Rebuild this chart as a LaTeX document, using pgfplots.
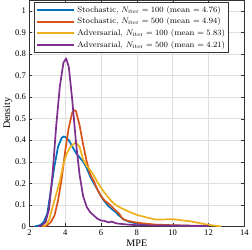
\documentclass[border=0pt]{standalone}
\usepackage{pgfplots}
\pgfplotsset{compat=1.18}
\usepackage{fontspec}
\newfontfamily\tms{Liberation Serif}
\definecolor{mblue}{rgb}{0,0.447,0.741}
\definecolor{morange}{rgb}{0.85,0.325,0.098}
\definecolor{myellow}{rgb}{0.929,0.694,0.125}
\definecolor{mpurple}{rgb}{0.494,0.184,0.556}
\begin{document}
\begin{tikzpicture}
\begin{axis}[
  scale only axis, width=213pt, height=224pt,
  xmin=2, xmax=14, ymin=0, ymax=1.05,
  xtick={2,4,...,14}, ytick={0,0.1,...,1},
  yticklabels={0,0.1,0.2,0.3,0.4,0.5,0.6,0.7,0.8,0.9,1},
  tick align=inside, major tick length=3pt,
  grid=major, grid style={gray!25, line width=0.4pt},
  axis line style={black!80, line width=0.5pt},
  tick style={black!80},
  ticklabel style={font=\tms\fontsize{8.5}{9}\selectfont},
  /pgf/number format/assume math mode=true,
  xlabel={\tms\fontsize{10}{11}\selectfont MPE},
  ylabel={\tms\fontsize{10}{11}\selectfont Density},
  xlabel style={yshift=3pt}, ylabel style={yshift=-4pt},
  legend style={at={(0.023,0.991)}, anchor=north west, draw=black!80, line width=0.5pt,
    font=\fontsize{8.1}{9}\selectfont, inner sep=1.5pt, row sep=0pt, cells={anchor=west}},
  legend image code/.code={\draw[#1, line width=2pt] (0pt,0pt) -- (37pt,0pt);},
  every axis plot/.append style={line width=1.7pt, line join=round},
]
\addplot[mblue] coordinates {
(2.3,0) (2.6,0.005) (2.8,0.02) (3.0,0.06) (3.2,0.17) (3.4,0.28) (3.6,0.37) (3.8,0.41) (3.9,0.417) (4.0,0.415) (4.2,0.40) (4.4,0.37) (4.6,0.34) (4.8,0.32) (5.0,0.30) (5.2,0.27) (5.4,0.23) (5.6,0.20) (5.8,0.17) (6.0,0.14) (6.2,0.115) (6.4,0.095) (6.6,0.08) (6.8,0.067) (7.0,0.05) (7.3,0.03) (7.6,0.02) (8,0.013) (8.5,0.008) (9,0.006) (10,0.004) (11,0.002) (12,0.001)};
\addlegendentry{Stochastic, $N_{\mathrm{iter}} = 100$ (mean $=4.76$)}
\addplot[morange] coordinates {
(2.8,0) (3.0,0.005) (3.2,0.02) (3.4,0.05) (3.6,0.12) (3.8,0.22) (4.0,0.35) (4.2,0.46) (4.4,0.53) (4.5,0.54) (4.6,0.535) (4.8,0.47) (5.0,0.38) (5.2,0.30) (5.4,0.24) (5.6,0.21) (5.8,0.17) (6.0,0.14) (6.2,0.12) (6.5,0.10) (6.8,0.075) (7.0,0.06) (7.2,0.035) (7.5,0.025) (8,0.017) (8.5,0.012) (9,0.008) (10,0.005) (11,0.003) (12,0.002)};
\addlegendentry{Stochastic, $N_{\mathrm{iter}} = 500$ (mean $=4.94$)}
\addplot[myellow] coordinates {
(2.7,0) (2.9,0.005) (3.1,0.03) (3.3,0.09) (3.5,0.15) (3.7,0.21) (3.9,0.29) (4.1,0.34) (4.3,0.37) (4.5,0.385) (4.6,0.388) (4.8,0.37) (5.0,0.31) (5.2,0.28) (5.4,0.26) (5.6,0.235) (5.8,0.205) (6.0,0.18) (6.2,0.155) (6.4,0.135) (6.6,0.115) (6.8,0.1) (7.0,0.09) (7.3,0.078) (7.6,0.066) (8.0,0.053) (8.5,0.042) (9.0,0.032) (9.5,0.032) (10.0,0.033) (10.5,0.028) (11.0,0.023) (11.5,0.015) (12.0,0.007) (12.4,0.002) (12.7,0)};
\addlegendentry{Adversarial, $N_{\mathrm{iter}} = 100$ (mean $=5.83$)}
\addplot[mpurple] coordinates {
(2.5,0) (2.7,0.005) (2.9,0.02) (3.1,0.08) (3.3,0.25) (3.5,0.47) (3.7,0.65) (3.9,0.76) (4.05,0.78) (4.2,0.74) (4.4,0.58) (4.6,0.39) (4.8,0.24) (5.0,0.14) (5.2,0.09) (5.4,0.065) (5.6,0.05) (5.8,0.035) (6.0,0.027) (6.2,0.025) (6.4,0.018) (6.6,0.022) (6.8,0.015) (7.0,0.012) (7.5,0.008) (8,0.005) (9,0.004) (10,0.003) (11,0.002) (12,0.001)};
\addlegendentry{Adversarial, $N_{\mathrm{iter}} = 500$ (mean $=4.21$)}
\end{axis}
\end{tikzpicture}
\end{document}
